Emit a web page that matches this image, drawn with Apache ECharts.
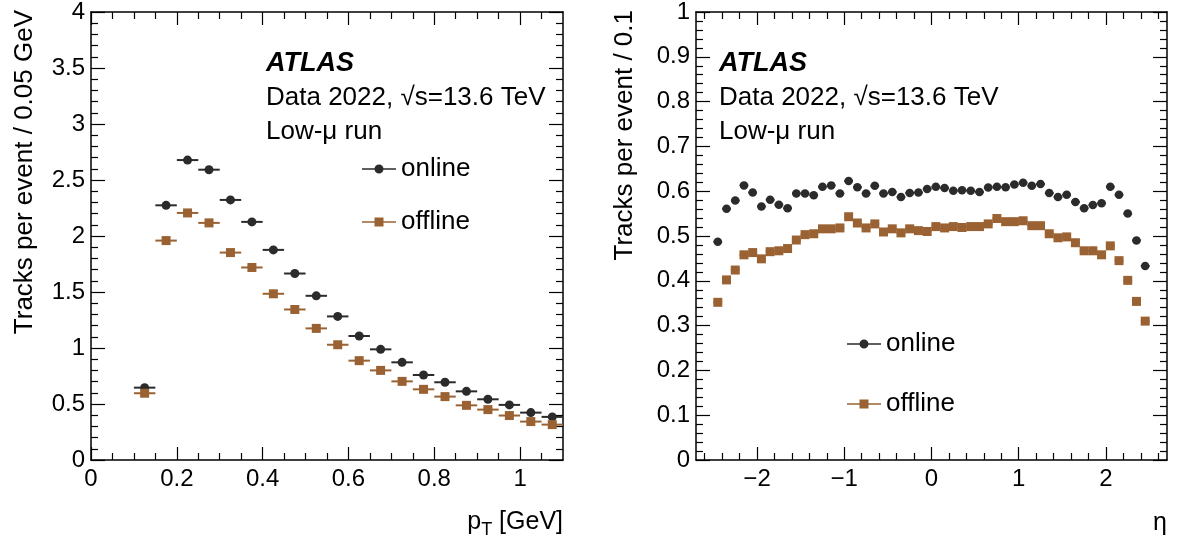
<!DOCTYPE html>
<html>
<head>
<meta charset="utf-8">
<script src="https://cdn.jsdelivr.net/npm/echarts@6/dist/echarts.min.js"></script>
<style>
  html, body { margin: 0; padding: 0; background: #fff; }
  #main { width: 1179px; height: 547px; }
</style>
</head>
<body>
<div id="main"></div>
<script>
// pT panel: bin centres (0.05 GeV bins) and tracks per event
var ptCenters = [0.125, 0.175, 0.225, 0.275, 0.325, 0.375, 0.425, 0.475, 0.525, 0.575,
                 0.625, 0.675, 0.725, 0.775, 0.825, 0.875, 0.925, 0.975, 1.025, 1.075];
var ptOnline  = [0.646, 2.274, 2.678, 2.592, 2.322, 2.126, 1.876, 1.665, 1.466, 1.282,
                 1.107, 0.988, 0.872, 0.759, 0.694, 0.613, 0.542, 0.492, 0.423, 0.385];
var ptOffline = [0.596, 1.959, 2.206, 2.117, 1.852, 1.719, 1.484, 1.344, 1.175, 1.029,
                 0.887, 0.800, 0.702, 0.631, 0.566, 0.488, 0.450, 0.397, 0.343, 0.316];

// eta panel: bin centres (0.1 bins)
var etaCenters = [-2.45, -2.35, -2.25, -2.15, -2.05, -1.95, -1.85, -1.75, -1.65, -1.55,
                  -1.45, -1.35, -1.25, -1.15, -1.05, -0.95, -0.85, -0.75, -0.65, -0.55,
                  -0.45, -0.35, -0.25, -0.15, -0.05, 0.05, 0.15, 0.25, 0.35, 0.45,
                  0.55, 0.65, 0.75, 0.85, 0.95, 1.05, 1.15, 1.25, 1.35, 1.45,
                  1.55, 1.65, 1.75, 1.85, 1.95, 2.05, 2.15, 2.25, 2.35, 2.45];
var etaOnline  = [0.487, 0.561, 0.579, 0.613, 0.597, 0.566, 0.581, 0.570, 0.562, 0.595,
                  0.595, 0.591, 0.610, 0.613, 0.595, 0.623, 0.609, 0.595, 0.612, 0.595,
                  0.598, 0.587, 0.596, 0.597, 0.605, 0.610, 0.607, 0.601, 0.602, 0.601,
                  0.598, 0.608, 0.610, 0.609, 0.615, 0.619, 0.612, 0.616, 0.596, 0.587,
                  0.592, 0.576, 0.562, 0.569, 0.573, 0.610, 0.592, 0.550, 0.490, 0.433];
var etaOffline = [0.352, 0.402, 0.424, 0.458, 0.463, 0.449, 0.465, 0.467, 0.472, 0.491,
                  0.503, 0.505, 0.516, 0.516, 0.518, 0.543, 0.529, 0.518, 0.527, 0.509,
                  0.516, 0.507, 0.516, 0.512, 0.510, 0.521, 0.518, 0.521, 0.519, 0.521,
                  0.521, 0.527, 0.539, 0.532, 0.532, 0.534, 0.523, 0.523, 0.505, 0.496,
                  0.498, 0.485, 0.467, 0.467, 0.458, 0.478, 0.445, 0.401, 0.354, 0.310];

// tick positions
var ptMajor = [0, 0.2, 0.4, 0.6, 0.8, 1.0];
var ptMinor = [0.05, 0.1, 0.15, 0.25, 0.3, 0.35, 0.45, 0.5, 0.55, 0.65, 0.7, 0.75, 0.85, 0.9, 0.95, 1.05];
var ptYMajor = [0, 0.5, 1, 1.5, 2, 2.5, 3, 3.5, 4];
var ptYMinor = [0.1, 0.2, 0.3, 0.4, 0.6, 0.7, 0.8, 0.9, 1.1, 1.2, 1.3, 1.4, 1.6, 1.7, 1.8, 1.9,
                2.1, 2.2, 2.3, 2.4, 2.6, 2.7, 2.8, 2.9, 3.1, 3.2, 3.3, 3.4, 3.6, 3.7, 3.8, 3.9];
var etaMajor = [-2, -1, 0, 1, 2];
var etaMinor = [-2.6, -2.4, -2.2, -1.8, -1.6, -1.4, -1.2, -0.8, -0.6, -0.4, -0.2,
                0.2, 0.4, 0.6, 0.8, 1.2, 1.4, 1.6, 1.8, 2.2, 2.4, 2.6];
var etaYMajor = [0, 0.1, 0.2, 0.3, 0.4, 0.5, 0.6, 0.7, 0.8, 0.9, 1];
var etaYMinor = [0.02, 0.04, 0.06, 0.08, 0.12, 0.14, 0.16, 0.18, 0.22, 0.24, 0.26, 0.28,
                 0.32, 0.34, 0.36, 0.38, 0.42, 0.44, 0.46, 0.48, 0.52, 0.54, 0.56, 0.58,
                 0.62, 0.64, 0.66, 0.68, 0.72, 0.74, 0.76, 0.78, 0.82, 0.84, 0.86, 0.88,
                 0.92, 0.94, 0.96, 0.98];

var FONT = "'Liberation Sans', Arial, sans-serif";
var COL_ON = '#2b2b2b';
var COL_OFF = '#9a6232';

function mkAxis(grid, pos, min, max, ticks, len, line, label) {
	var lab = { show: false, customValues: ticks };
	if (label) {
		lab = {
			show: true, customValues: ticks, color: '#000', fontSize: 24, fontFamily: FONT,
			margin: label.margin,
			formatter: function (v) { return String(v).replace('-', '\u2212'); }
		};
	}
	return {
		type: 'value', gridIndex: grid, position: pos, min: min, max: max,
		axisLine: { show: line, onZero: false, lineStyle: { color: '#000', width: 1.5 } },
		axisTick: { show: true, inside: true, length: len, customValues: ticks,
			lineStyle: { color: '#000', width: 1.2 } },
		axisLabel: lab,
		splitLine: { show: false },
		minorTick: { show: false }
	};
}

function axisSet(grid, posA, posB, min, max, major, minor, majLen, margin) {
	return [
		mkAxis(grid, posA, min, max, major, majLen, true, { margin: margin }),
		mkAxis(grid, posA, min, max, minor, 7, false, null),
		mkAxis(grid, posB, min, max, major, majLen, true, null),
		mkAxis(grid, posB, min, max, minor, 7, false, null)
	];
}

function errBar(half) {
	return function (params, api) {
		var x = api.value(0), y = api.value(1);
		var a = api.coord([x - half, y]);
		var b = api.coord([x + half, y]);
		return {
			type: 'line',
			shape: { x1: a[0], y1: a[1], x2: b[0], y2: b[1] },
			style: { stroke: api.visual('color'), lineWidth: 2 }
		};
	};
}

function pairs(xs, ys) {
	return xs.map(function (x, i) { return [x, ys[i]]; });
}

var ICON_ON = 'path://M0,3.75h34v1.5h-34z M12.5,4.5a4.5,4.5 0 1,1 9,0a4.5,4.5 0 1,1 -9,0z';
var ICON_OFF = 'path://M0,3.75h34v1.5h-34z M12.5,0h9v9h-9z';

function legendAt(left, top, gap) {
	return {
		orient: 'vertical', left: left, top: top, itemGap: gap, padding: 0,
		itemWidth: 34, itemHeight: 9, selectedMode: false,
		textStyle: { fontSize: 26, fontFamily: FONT, color: '#000' },
		data: [
			{ name: 'online', icon: ICON_ON, itemStyle: { color: COL_ON } },
			{ name: 'offline', icon: ICON_OFF, itemStyle: { color: COL_OFF } }
		]
	};
}

function label(x, y, text, extra) {
	var st = { text: text, fontSize: 26, fontFamily: FONT, fill: '#000', verticalAlign: 'middle' };
	for (var k in extra) st[k] = extra[k];
	return { type: 'text', x: x, y: y, style: st };
}

var myChart = echarts.init(document.getElementById('main'));

var xAxes = axisSet(0, 'bottom', 'top', 0, 1.1, ptMajor, ptMinor, 13, 7)
	.concat(axisSet(1, 'bottom', 'top', -2.7, 2.7, etaMajor, etaMinor, 13, 7));
var yAxes = axisSet(0, 'left', 'right', 0, 4, ptYMajor, ptYMinor, 14, 6)
	.concat(axisSet(1, 'left', 'right', 0, 1, etaYMajor, etaYMinor, 14, 6));

var option = {
	animation: false,
	backgroundColor: '#fff',
	grid: [
		{ left: 91, top: 10, width: 472, height: 450 },
		{ left: 696, top: 10, width: 471, height: 450 }
	],
	xAxis: xAxes,
	yAxis: yAxes,
	legend: [legendAt(362, 156, 27), legendAt(847, 331, 34)],
	graphic: [
		label(266, 64, 'ATLAS', { fontWeight: 'bold', fontStyle: 'italic', fontSize: 27 }),
		label(266, 98, 'Data 2022, \u221As=13.6 TeV'),
		label(266, 132, 'Low-\u03BC run'),
		label(719, 64, 'ATLAS', { fontWeight: 'bold', fontStyle: 'italic', fontSize: 27 }),
		label(719, 98, 'Data 2022, \u221As=13.6 TeV'),
		label(719, 132, 'Low-\u03BC run'),
		{ type: 'text', x: 25, y: 10, rotation: Math.PI / 2,
		  style: { text: 'Tracks per event / 0.05 GeV', fontSize: 26, fontFamily: FONT, fill: '#000',
		           align: 'right', verticalAlign: 'middle' } },
		{ type: 'text', x: 625, y: 10, rotation: Math.PI / 2,
		  style: { text: 'Tracks per event / 0.1', fontSize: 26, fontFamily: FONT, fill: '#000',
		           align: 'right', verticalAlign: 'middle' } },
		{ type: 'text', x: 563, y: 522,
		  style: { text: '{a|p}{s|T}{a| [GeV]}', align: 'right', verticalAlign: 'middle', fill: '#000',
		           rich: { a: { fontSize: 25, fontFamily: FONT, fill: '#000' },
		                   s: { fontSize: 18, fontFamily: FONT, fill: '#000', padding: [16, 0, 0, 0] } } } },
		label(1167, 523, '\u03B7', { align: 'right', fontSize: 25 })
	],
	series: [
		{ name: 'online-err', type: 'custom', xAxisIndex: 0, yAxisIndex: 0, clip: true,
		  itemStyle: { color: COL_ON }, renderItem: errBar(0.025), data: pairs(ptCenters, ptOnline) },
		{ name: 'offline-err', type: 'custom', xAxisIndex: 0, yAxisIndex: 0, clip: true,
		  itemStyle: { color: COL_OFF }, renderItem: errBar(0.025), data: pairs(ptCenters, ptOffline) },
		{ name: 'online', type: 'scatter', xAxisIndex: 0, yAxisIndex: 0, symbol: 'circle', symbolSize: 9,
		  itemStyle: { color: COL_ON, opacity: 1 }, data: pairs(ptCenters, ptOnline), z: 3 },
		{ name: 'offline', type: 'scatter', xAxisIndex: 0, yAxisIndex: 0, symbol: 'rect', symbolSize: 9,
		  itemStyle: { color: COL_OFF, opacity: 1 }, data: pairs(ptCenters, ptOffline), z: 3 },

		{ name: 'online-err', type: 'custom', xAxisIndex: 4, yAxisIndex: 4, clip: true,
		  itemStyle: { color: COL_ON }, renderItem: errBar(0.05), data: pairs(etaCenters, etaOnline) },
		{ name: 'offline-err', type: 'custom', xAxisIndex: 4, yAxisIndex: 4, clip: true,
		  itemStyle: { color: COL_OFF }, renderItem: errBar(0.05), data: pairs(etaCenters, etaOffline) },
		{ name: 'online', type: 'scatter', xAxisIndex: 4, yAxisIndex: 4, symbol: 'circle', symbolSize: 8.5,
		  itemStyle: { color: COL_ON, opacity: 1 }, data: pairs(etaCenters, etaOnline), z: 3 },
		{ name: 'offline', type: 'scatter', xAxisIndex: 4, yAxisIndex: 4, symbol: 'rect', symbolSize: 9,
		  itemStyle: { color: COL_OFF, opacity: 1 }, data: pairs(etaCenters, etaOffline), z: 3 }
	]
};
myChart.setOption(option);
</script>
</body>
</html>
